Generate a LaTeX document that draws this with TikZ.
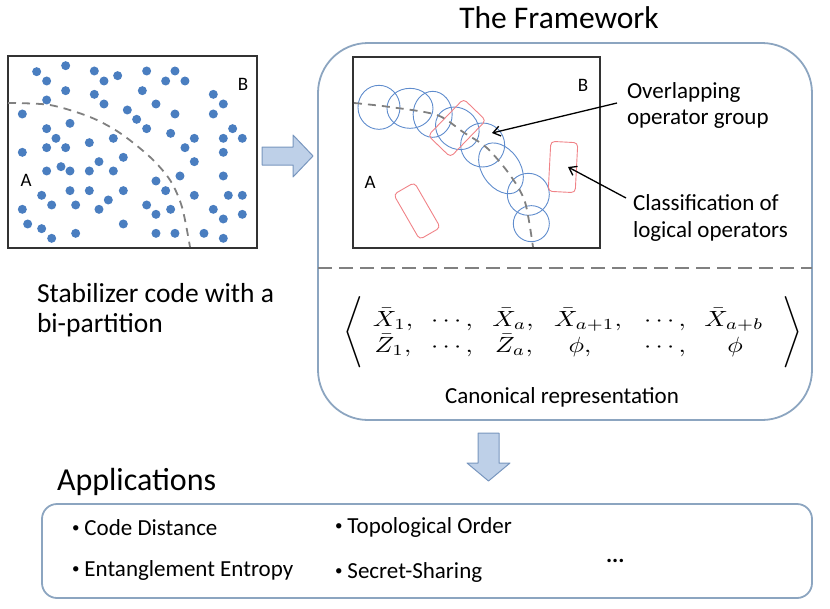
\documentclass[tikz,border=0pt]{standalone}
\usepackage{fontspec}
\setmainfont{Carlito}
\usetikzlibrary{arrows.meta}
\definecolor{dotblue}{RGB}{74,126,192}
\definecolor{ringblue}{RGB}{95,140,205}
\definecolor{boxred}{RGB}{240,130,135}
\definecolor{frameblue}{RGB}{140,165,192}
\definecolor{arrfill}{RGB}{190,208,232}
\definecolor{arrline}{RGB}{120,150,190}
\definecolor{dashgray}{RGB}{128,128,128}
\newcommand{\fs}[1]{\fontsize{#1}{#1}\selectfont}
\newcommand{\smallbul}{{\fs{15}\raisebox{2.5pt}{•}}\hspace{5pt}}
\begin{document}
\begin{tikzpicture}[x=1pt,y=-1pt,
  txt/.style={inner sep=0pt, outer sep=0pt, text=black},
  plainbox/.style={draw=black!80, line width=1.4pt},
  ring/.style={draw=ringblue, line width=0.9pt},
  redbox/.style={draw=boxred, line width=0.9pt, rounded corners=4pt, rectangle, inner sep=0pt},
  cut/.style={draw=dashgray, line width=1.8pt, dash pattern=on 8pt off 6pt},
  fatarrow/.style={fill=arrfill, draw=arrline, line width=1pt, line join=round},
  frame/.style={draw=frameblue, line width=1.8pt},
  pointer/.style={draw=black, line width=1.3pt, -{Straight Barb[length=7pt,width=10pt,line width=1.3pt]}},
  dot/.style={fill=dotblue},
  mth/.style={txt, font=\fontsize{10}{12}\selectfont, anchor=base, xscale=2.6, yscale=2.2, transform shape},
  bul/.style={txt, font=\fs{23}, anchor=base west}
]
\useasboundingbox (0,0) rectangle (830,608);

% ---------- left: stabilizer code ----------
\draw[plainbox] (8,56) rectangle (257,248);
\begin{scope}[shift={(0,50)}, x=0.3333pt, y=-0.3333pt]
\foreach \p in {(110,65),(197,47),(283,63),(353,77),(440,63),(525,63),(140,93),(312,93),(497,93),(555,93),(197,122),(283,133),(427,122),(640,133),(140,150),(312,162),(468,162),(670,162),(67,192),(382,180),(525,192),(640,192),(410,208),(210,220),(140,236),(440,236),(512,250),(698,236),(168,265),(340,265),(583,265),(670,265),(727,265),(140,293),(197,293),(268,278),(555,293),(67,307),(670,307),(370,322),(297,335),(583,335),(183,350),(140,363),(210,363),(268,363),(340,363),(540,378),(670,378),(468,393),(497,422),(210,422),(268,422),(370,422),(125,436),(583,436),(685,436),(727,436),(325,450),(155,465),(227,465),(440,465),(67,478),(297,478),(512,478),(640,478),(468,493),(727,493),(670,507),(83,522),(370,522),(125,536),(227,550),(468,550),(525,550),(612,550),(155,565),(670,565)}
  \fill[dot] \p circle[radius=4.5pt];
\end{scope}
\draw[cut] plot[smooth] coordinates {(8,103) (50,105) (90,117) (120,133) (150,157) (170,180) (182,207) (190,247)};
\node[txt, font=\fs{19}, anchor=base] (lB) at (243,90) {B};
\node[txt, font=\fs{19}, anchor=base] (lA) at (26,186) {A};

\node[txt, font=\fs{27.5}, align=left, anchor=base west] (stab) at (37,332)
  {Stabilizer code with a\\[2.5pt]bi-partition};

% right arrow
\draw[fatarrow] (262,147) -- (293,147) -- (293,135) -- (313,156) -- (293,177) -- (293,165) -- (262,165) -- cycle;

% ---------- framework ----------
\node[txt, font=\fs{31.5}, anchor=base] (title) at (559,28) {The Framework};
\draw[frame, rounded corners=50pt] (318,43) rectangle (812,420);
\draw[plainbox] (353,57) rectangle (600,248);

% rings (in zoom coordinates)
\begin{scope}[shift={(340,45)}, x=0.3333pt, y=-0.3333pt]
\draw[ring] (117,187) ellipse[x radius=21pt, y radius=22pt];
\draw[ring] (210,190) ellipse[x radius=23pt, y radius=20pt];
\draw[ring] (278,208) ellipse[x radius=19.5pt, y radius=23pt];
\draw[ring, rotate around={-40:(352,250)}] (352,250) ellipse[x radius=23pt, y radius=20pt];
\draw[ring] (428,300) ellipse[x radius=22pt, y radius=22pt];
\draw[ring, rotate around={-55:(483,370)}] (483,370) ellipse[x radius=28pt, y radius=19pt];
\draw[ring] (565,448) ellipse[x radius=21pt, y radius=21pt];
\draw[ring] (574,536) ellipse[x radius=18pt, y radius=18pt];
\end{scope}

\node[redbox, minimum width=51pt, minimum height=31pt, rotate=46] (ra) at (457,128) {};
\node[redbox, minimum width=27pt, minimum height=50pt, rotate=-3] (rb) at (563,167) {};
\node[redbox, minimum width=24pt, minimum height=52pt, rotate=30] (rc) at (417,211) {};

\draw[cut] plot[smooth] coordinates {(354,103) (390,107) (437,115) (463,132) (487,148) (510,175) (525,202) (533,247)};
\node[txt, font=\fs{19}, anchor=base] (iB) at (583,91) {B};
\node[txt, font=\fs{19}, anchor=base] (iA) at (370,188) {A};

\node[txt, font=\fs{23}, align=left, anchor=base west] (ovl) at (627,124)
  {Overlapping\\[3pt]operator group};
\node[txt, font=\fs{23}, align=left, anchor=base west] (cls) at (633,237)
  {Classification of\\[4pt]logical operators};
\coordinate (ovlstart) at (617,103);
\coordinate (ovlend) at (492,133);
\coordinate (clsstart) at (626,198);
\coordinate (clsend) at (568,167);
\draw[pointer] (ovlstart) -- (ovlend);
\draw[pointer] (clsstart) -- (clsend);

\coordinate (cutL) at (318,268);
\coordinate (cutR) at (812,268);
\draw[cut, dash pattern=on 14pt off 7pt] (cutL) -- (cutR);

% canonical representation
\node[mth] (x1) at (393,326) {$\bar X_1,$};
\node[mth] (xd1) at (452,326) {$\cdots,$};
\node[mth] (xa) at (513,326) {$\bar X_a,$};
\node[mth] (xa1) at (588,326) {$\bar X_{a+1},$};
\node[mth] (xd2) at (665,326) {$\cdots,$};
\node[mth] (xab) at (734,326) {$\bar X_{a+b}$};
\node[mth] (z1) at (393,352) {$\bar Z_1,$};
\node[mth] (zd1) at (452,352) {$\cdots,$};
\node[mth] (za) at (514,352) {$\bar Z_a,$};
\node[mth] (p1) at (580,352) {$\phi,$};
\node[mth] (zd2) at (665,352) {$\cdots,$};
\node[mth] (p2) at (735,352) {$\phi$};
\node[mth, anchor=center, xscale=0.95, yscale=1.08] (lang) at (353,332) {$\Bigg\langle$};
\node[mth, anchor=center, xscale=0.95, yscale=1.08] (rang) at (792,332) {$\Bigg\rangle$};
\node[txt, font=\fs{23}, anchor=base] (canon) at (562,403) {Canonical representation};

% down arrow
\draw[fatarrow] (478,433) -- (499,433) -- (499,463) -- (510,463) -- (488.5,481) -- (467,463) -- (478,463) -- cycle;

% ---------- applications ----------
\node[txt, font=\fs{32}, anchor=base west] (apps) at (57,490) {Applications};
\draw[frame, rounded corners=15pt] (42,504) rectangle (812,598);
\node[bul] (a1) at (72,535) {\smallbul Code Distance};
\node[bul] (a2) at (72,576) {\smallbul Entanglement Entropy};
\node[bul] (a3) at (335,533) {\smallbul Topological Order};
\node[bul] (a4) at (335,578) {\smallbul Secret-Sharing};
\node[bul] (a5) at (606,562) {\textbf{...}};
\end{tikzpicture}
\end{document}
